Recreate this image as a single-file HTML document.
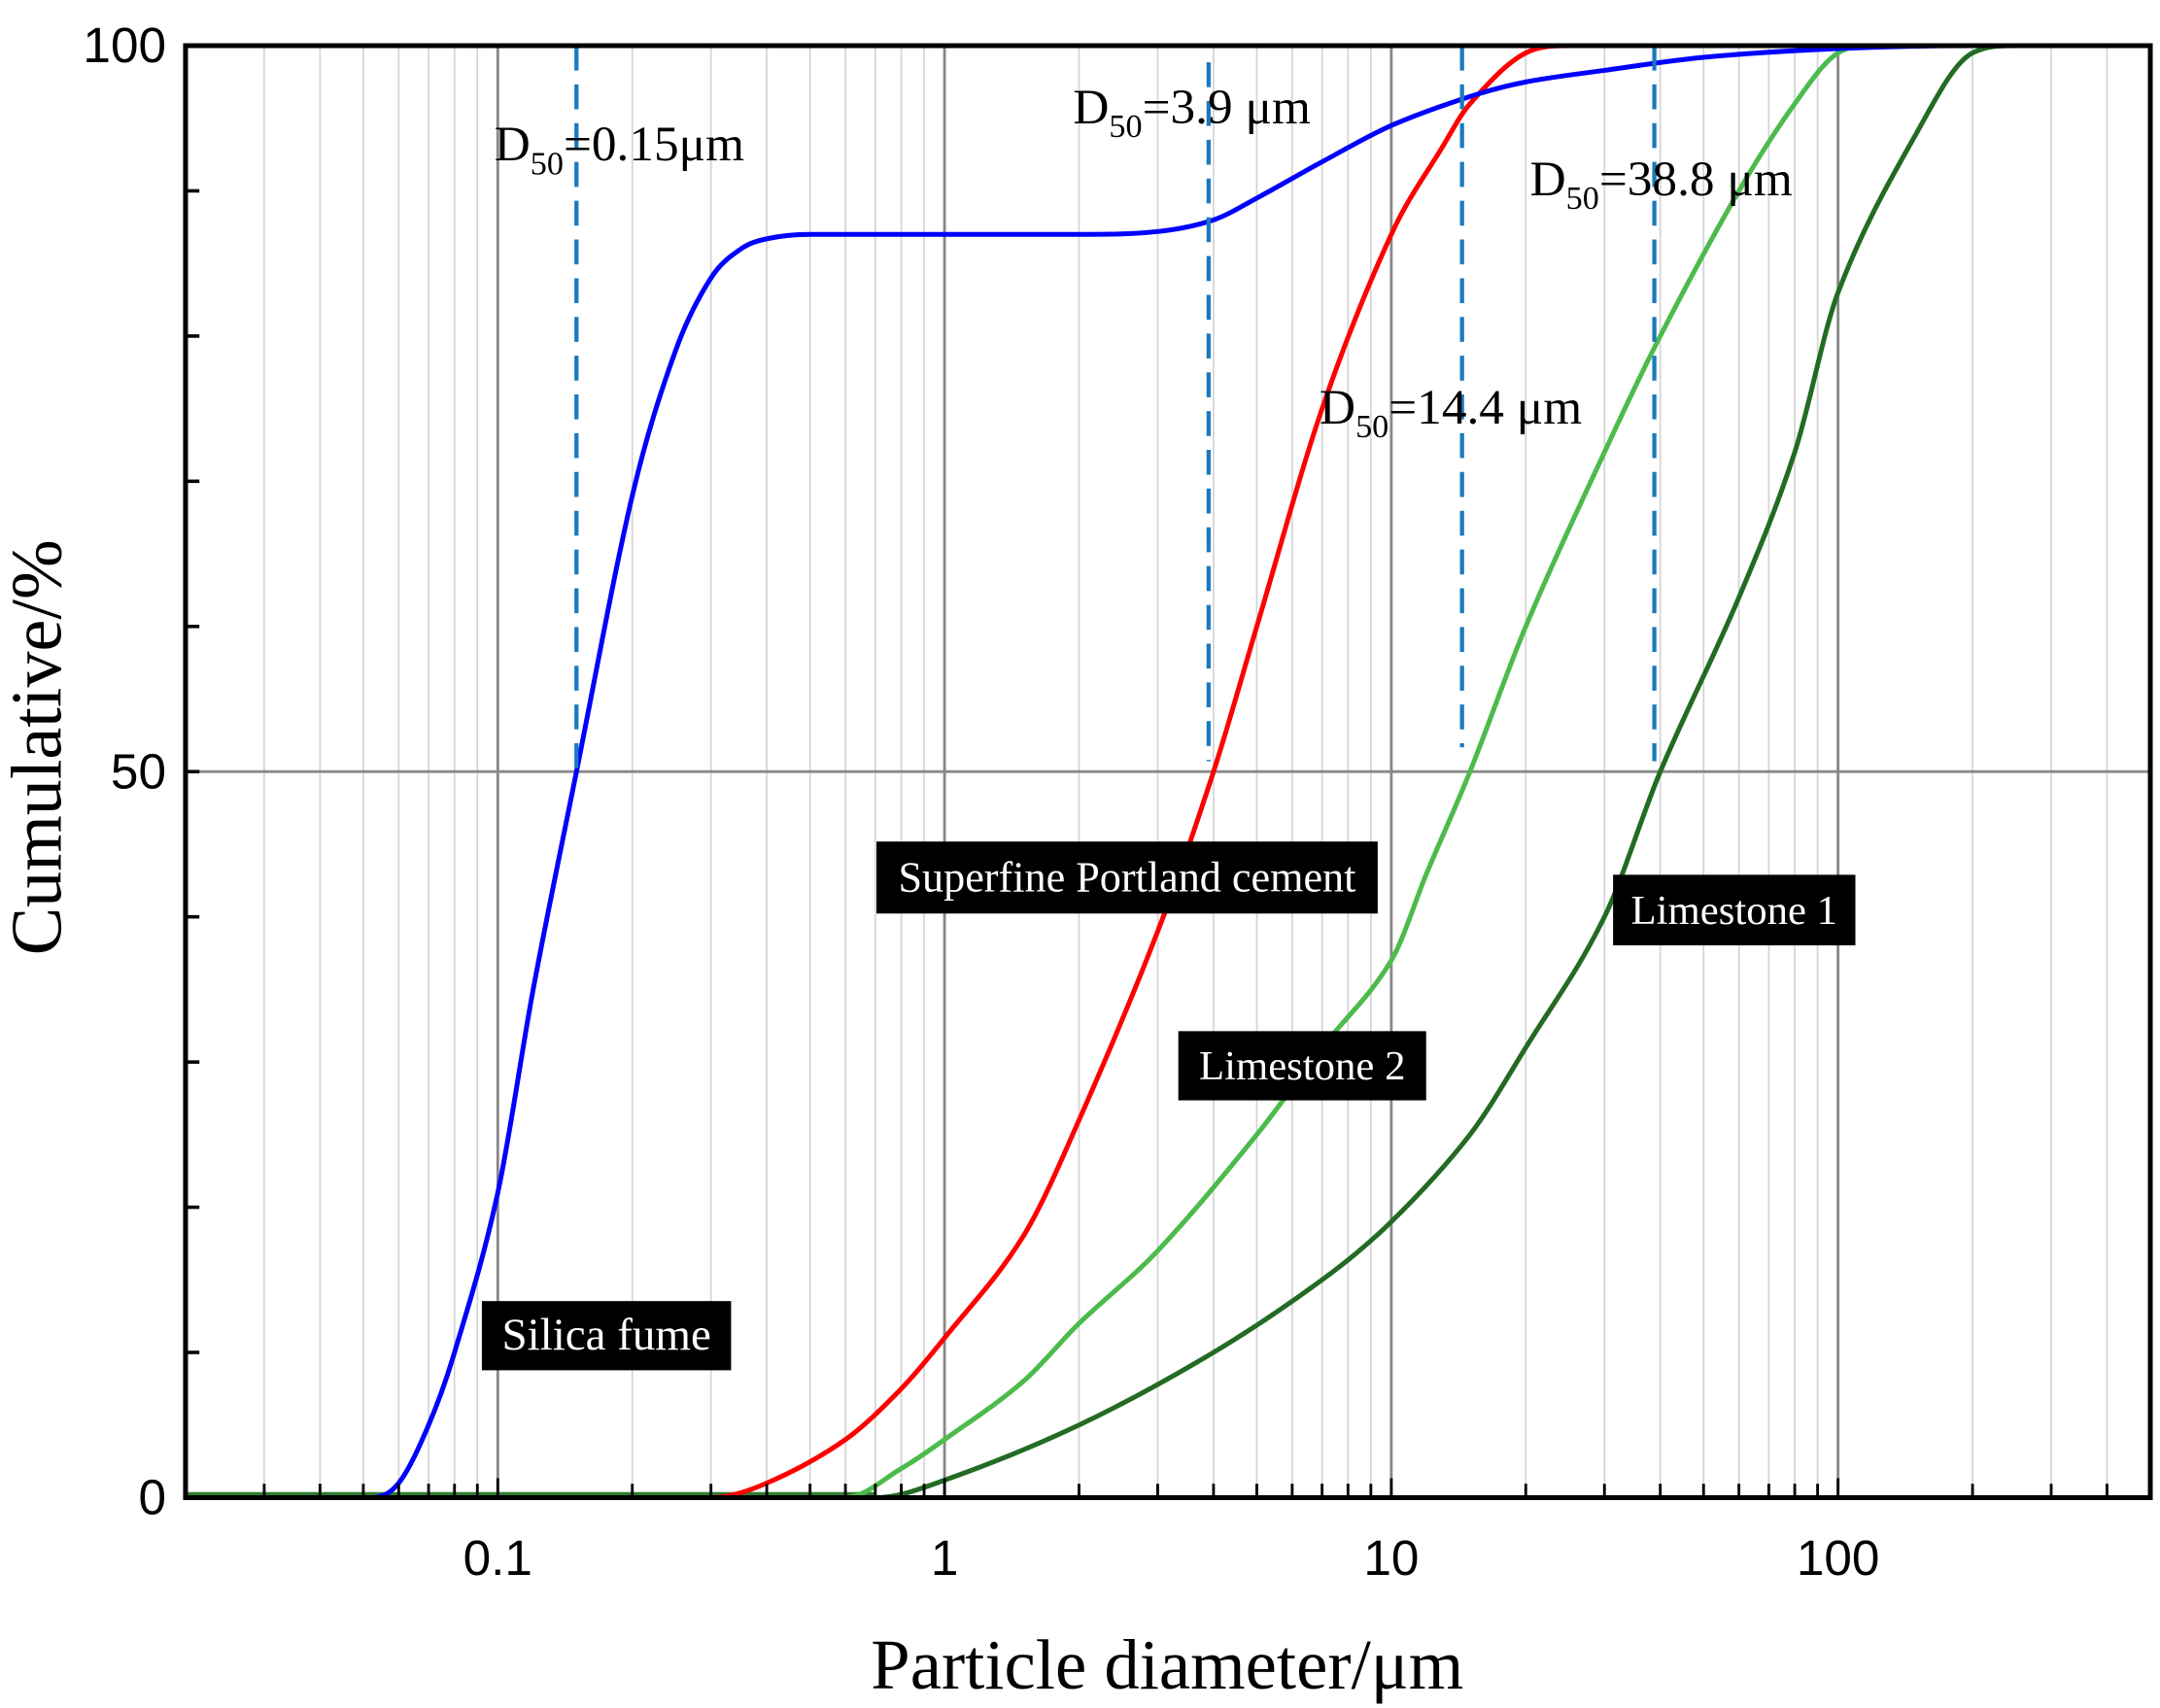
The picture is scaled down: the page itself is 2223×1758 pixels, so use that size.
<!DOCTYPE html>
<html><head><meta charset="utf-8"><style>
html,body{margin:0;padding:0;background:#fff;}
svg{display:block;}
</style></head><body>
<svg id="chart" width="2223" height="1758" viewBox="0 0 1560 1234" preserveAspectRatio="none" xmlns="http://www.w3.org/2000/svg">
<rect x="0" y="0" width="1560" height="1234" fill="#fff"/>
<g id="grid"></g>
<g id="series"></g>
<g id="frame"></g>
<g id="labels"></g>
</svg>
<script>
const xTicks=[0.1,1,10,100];
const xTickLabels=["0.1","1","10","100"];
const yTicks=[0,50,100];
const yTickLabels=["0","50","100"];
const silicaX=[0.052,0.06,0.07,0.08,0.1,0.12,0.15,0.2,0.25,0.3,0.35,0.4,0.5,1,2,3,4,5,7,10,15,20,30,50,100,200,500];
const silicaY=[0,1,5,10,21,35,50,69,79,84,86,86.7,87,87,87,87.2,88,89.5,92,94.5,96.5,97.5,98.3,99.2,99.8,100,100];
const cementX=[0.02,0.3,0.4,0.6,0.8,1,1.5,2,3,4,5,7,10,13,15,20,25,500];
const cementY=[0,0,1,4,7.5,11,18,26,39,50,60,75,87,93,96,99.5,100,100];
const lime2X=[0.02,0.6,0.8,1,1.5,2,3,5,7,10,12,15,20,30,40,60,80,100,120,500];
const lime2Y=[0,0,2,4,8,12,17,25,31,37,43,50,60,72,80,90,96,99.5,100,100];
const lime1X=[0.02,0.7,1,2,4,7,10,15,20,30,40,60,80,100,150,200,250,500];
const lime1Y=[0,0,1.2,5,10,15,19,25,31,40,50,62,72,83,94,99.5,100,100];
const d50Values=[0.15,3.9,14.4,38.8];

const L=134,R=1553,T=33,B=1082;
const lmin=Math.log10(0.02),lmax=Math.log10(500);
function sx(v){return L+(Math.log10(v)-lmin)/(lmax-lmin)*(R-L);}
function sy(v){return B-v/100*(B-T);}
const NS="http://www.w3.org/2000/svg";
function mk(tag,attrs,parent){const e=document.createElementNS(NS,tag);for(const k in attrs)e.setAttribute(k,attrs[k]);parent.appendChild(e);return e;}
const grid=document.getElementById('grid'),frame=document.getElementById('frame'),series=document.getElementById('series'),labels=document.getElementById('labels');

for(let d=-2;d<=2;d++){for(let m=1;m<=9;m++){const v=m*Math.pow(10,d);if(v<0.02||v>500)continue;const x=sx(v);
 const ln=mk('line',{x1:x,x2:x,y1:T,y2:B,stroke:m===1?'#888':'#d4d4d4','stroke-width':m===1?2:1.2},grid);
 
 
 const tk=mk('line',{x1:x,x2:x,y1:B,y2:B-(m===1?14:10),stroke:'#000','stroke-width':2},frame);
 
 
}}
const hl=mk('line',{x1:L,x2:R,y1:sy(50),y2:sy(50),stroke:'#888','stroke-width':2},grid);



for(let v=0;v<=100;v+=10){const y=sy(v);const t=mk('line',{x1:L,x2:L+10,y1:y,y2:y,stroke:'#000','stroke-width':2.5},frame);
 
 }
yTicks.forEach((v,i)=>{const t=mk('text',{x:120,y:sy(v)+12,'text-anchor':'end','font-family':'Liberation Sans, sans-serif','font-size':36},labels);t.textContent=yTickLabels[i];
 
 });
xTicks.forEach((v,i)=>{const t=mk('text',{x:sx(v),y:1138,'text-anchor':'middle','font-family':'Liberation Sans, sans-serif','font-size':36},labels);t.textContent=xTickLabels[i];
 
 });

const fr=mk('path',{d:`M${L},${B}L${L},${T}L${R},${T}L${R},${B}Z`,fill:'none',stroke:'#000','stroke-width':3.5},frame);



function curve(xs,ys){const px=xs.map(sx),py=ys.map(sy),n=px.length;const m=[];
 for(let i=0;i<n;i++){
  if(i===0||i===n-1){m[i]=0;continue;}
  const a=py[i]-py[i-1],b=py[i+1]-py[i];
  if(a===0||b===0||a*b<0){m[i]=0;continue;}
  m[i]=(py[i+1]-py[i-1])/(px[i+1]-px[i-1]);
  const d0=a/(px[i]-px[i-1]),d1=b/(px[i+1]-px[i]);
  const lim=3*Math.min(Math.abs(d0),Math.abs(d1));
  if(Math.abs(m[i])>lim)m[i]=Math.sign(m[i])*lim;
 }
 let p=`M${px[0]},${py[0]}`;
 for(let i=0;i<n-1;i++){const h=(px[i+1]-px[i])/3;p+=`C${px[i]+h},${py[i]+m[i]*h} ${px[i+1]-h},${py[i+1]-m[i+1]*h} ${px[i+1]},${py[i+1]}`;}
 return p;}

const baseline=mk('line',{x1:L,x2:sx(0.7),y1:B-2,y2:B-2,stroke:'#2e7d32','stroke-width':4},series);


const s1=mk('path',{d:curve(lime1X,lime1Y),fill:'none',stroke:'#236b23','stroke-width':3.5},series);


const s2=mk('path',{d:curve(lime2X,lime2Y),fill:'none',stroke:'#4cbb4c','stroke-width':3.5},series);


const s3=mk('path',{d:curve(cementX,cementY),fill:'none',stroke:'#ff0000','stroke-width':3.5},series);


const s4=mk('path',{d:curve(silicaX,silicaY),fill:'none',stroke:'#0000ff','stroke-width':3.5},series);



const dTop=[T,45,T,T],dBot=[557,550,540,550];
d50Values.forEach((v,i)=>{const x=sx(v);const l=mk('line',{x1:x,x2:x,y1:dTop[i],y2:dBot[i],stroke:'#1a7abf','stroke-width':3,'stroke-dasharray':'18,10'},series);
 
 });

const dl=[[357,116,"0.15μm"],[775,89,"3.9 μm"],[953,306,"14.4 μm"],[1105,141,"38.8 μm"]];
dl.forEach(a=>{const t=mk('text',{x:a[0],y:a[1],'font-family':'Liberation Serif, serif','font-size':36},labels);
 t.innerHTML=`D<tspan font-size="24" dy="10">50</tspan><tspan dy="-10">=${a[2]}</tspan>`;
 
 });

const bl=[[348,940,180,50,"Silica fume",33],[633,608,362,52,"Superfine Portland cement",31],[1165,632,175,51,"Limestone 1",30],[851,745,179,50,"Limestone 2",30]];
bl.forEach(a=>{const g=mk('g',{},labels);
 
 
 mk('rect',{x:a[0],y:a[1],width:a[2],height:a[3],fill:'#000'},g);
 const t=mk('text',{x:a[0]+a[2]/2,y:a[1]+a[3]/2+10,'text-anchor':'middle',fill:'#fff','font-family':'Liberation Serif, serif','font-size':a[5]},g);t.textContent=a[4];});

const xt=mk('text',{x:843,y:1220,'text-anchor':'middle','font-family':'Liberation Serif, serif','font-size':51},labels);xt.textContent="Particle diameter/μm";


const yt=mk('text',{x:0,y:0,'text-anchor':'middle','font-family':'Liberation Serif, serif','font-size':52,transform:'translate(44,540) rotate(-90)'},labels);yt.textContent="Cumulative/%";


</script>
</body></html>
